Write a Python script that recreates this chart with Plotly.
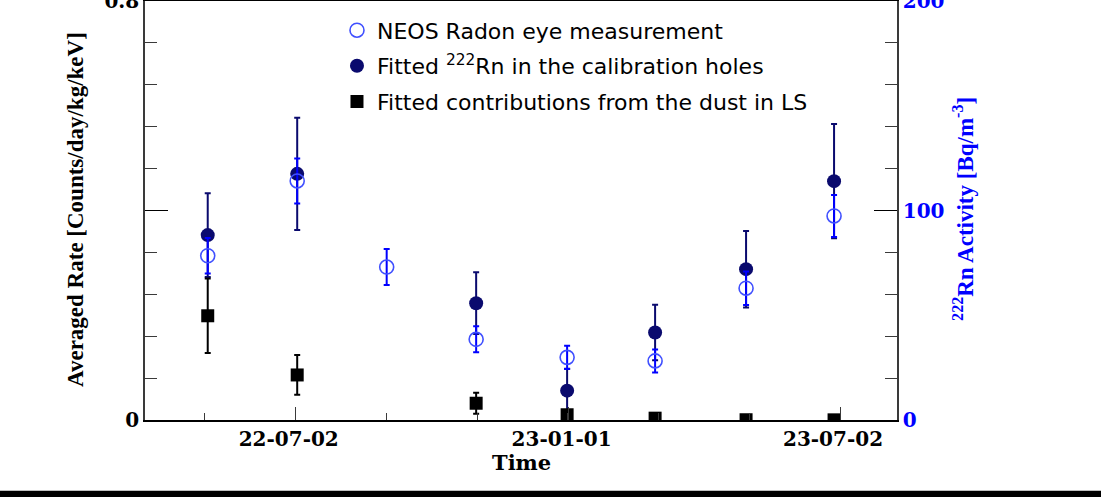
import plotly.graph_objects as go

# Measurement dates (roughly bimonthly)
dates = ["2022-05-04", "2022-07-03", "2022-09-01", "2022-10-31",
         "2022-12-31", "2023-02-28", "2023-04-30", "2023-06-28"]

# NEOS Radon eye measurement [Bq/m^3] (right axis)
neos_bq = [78.4, 114.1, 73.0, 38.5, 29.9, 28.2, 62.9, 97.4]
neos_err = [8.5, 10.7, 8.6, 6.2, 5.6, 5.5, 8.0, 10.0]

# Fitted 222Rn in the calibration holes [counts/day/kg/keV] (left axis)
rn_rate = [0.353, 0.470, None, 0.223, 0.056, 0.167, 0.288, 0.456]
rn_err = [0.080, 0.107, 0, 0.059, 0.042, 0.053, 0.073, 0.109]

# Fitted contributions from the dust in LS [counts/day/kg/keV] (left axis)
dust_rate = [0.199, 0.086, None, 0.032, 0.010, 0.0035, 0.0005, 0.0003]
dust_err = [0.071, 0.038, 0, 0.020, 0.006, 0.003, 0.002, 0.002]

# Axis tick labels
x_tickvals = ["2022-07-02", "2023-01-01", "2023-07-02"]
x_ticktext = ["22-07-02", "23-01-01", "23-07-02"]
y_tickvals = [0, 0.4, 0.8]
y_ticktext = ["0", "", "0.8"]
y2_tickvals = [0, 100, 200]
y2_ticktext = ["0", "100", "200"]

SERIF = "Liberation Serif"
WIDE_SERIF = "DejaVu Serif"
SANS = "DejaVu Sans"
NAVY = "#0a0a6e"
BLUE = "#0000ff"
AXIS = "#3a3a3a"

fig = go.Figure()

fig.add_trace(go.Scatter(
    x=dates, y=rn_rate, mode="markers", yaxis="y",
    name="Fitted <sup>222</sup>Rn in the calibration holes",
    legendrank=2, legendgroup="b",
    marker=dict(symbol="circle", size=14, color=NAVY),
    error_y=dict(type="data", array=rn_err, color=NAVY, thickness=2, width=3),
))

fig.add_trace(go.Scatter(
    x=dates, y=dust_rate, mode="markers", yaxis="y",
    name="Fitted contributions from the dust in LS",
    legendrank=3, legendgroup="c",
    marker=dict(symbol="square", size=13, color="black"),
    error_y=dict(type="data", array=dust_err, color="black", thickness=2, width=3),
))

fig.add_trace(go.Scatter(
    x=dates, y=neos_bq, mode="markers", yaxis="y2",
    name="NEOS Radon eye measurement",
    legendrank=1, legendgroup="a",
    marker=dict(symbol="circle-open", size=14, color="#4050ff",
                line=dict(width=1.6, color="#4050ff")),
    error_y=dict(type="data", array=neos_err, color=BLUE, thickness=2, width=3),
))

tick_font = dict(family=WIDE_SERIF, size=20, color="black", weight="bold")

fig.update_layout(
    width=1101, height=497,
    margin=dict(l=145, r=204, t=1, b=77, autoexpand=False),
    paper_bgcolor="white", plot_bgcolor="white",
    showlegend=True,
    legend=dict(
        x=0.2553, y=0.98, xanchor="left", yanchor="top",
        font=dict(family=SANS, size=22, color="black"),
        bgcolor="rgba(0,0,0,0)", tracegroupgap=4,
        traceorder="grouped",
    ),
    xaxis=dict(
        type="date", automargin=False,
        range=["2022-03-22 22:30", "2023-08-09 05:00"],
        tickmode="array", tickvals=x_tickvals, ticktext=x_ticktext,
        ticks="inside", ticklen=13, tickwidth=1, tickcolor=AXIS,
        ticklabelshift=-7, ticklabelstandoff=0,
        tickfont=tick_font,
        showline=True, linecolor="black", linewidth=1.5, mirror=True,
        showgrid=False, zeroline=False,
        minor=dict(ticks="inside", ticklen=7, tickcolor=AXIS, tickwidth=1,
                   tickmode="linear", tick0="2022-07-02", dtick=5256000000,
                   showgrid=False),
    ),
    yaxis=dict(
        range=[0, 0.8], automargin=False,
        tickmode="array", tickvals=y_tickvals, ticktext=y_ticktext,
        ticks="inside", ticklen=23, tickwidth=1, tickcolor="black",
        tickfont=tick_font, ticklabeloverflow="allow",
        showline=True, linecolor=AXIS, linewidth=1.5,
        showgrid=False, zeroline=False,
        minor=dict(ticks="inside", ticklen=12, tickcolor=AXIS, tickwidth=1,
                   tickmode="linear", tick0=0, dtick=0.08, showgrid=False),
    ),
    yaxis2=dict(
        range=[0, 200], overlaying="y", side="right", automargin=False,
        tickmode="array", tickvals=y2_tickvals, ticktext=y2_ticktext,
        ticks="inside", ticklen=23, tickwidth=1, tickcolor="black",
        tickfont=dict(family=WIDE_SERIF, size=20, color=BLUE, weight="bold"),
        ticklabeloverflow="allow",
        showline=True, linecolor=AXIS, linewidth=1.5,
        showgrid=False, zeroline=False,
        minor=dict(ticks="inside", ticklen=12, tickcolor=AXIS, tickwidth=1,
                   tickmode="linear", tick0=0, dtick=20, showgrid=False),
    ),
    annotations=[
        dict(text="Averaged Rate [Counts/day/kg/keV]", xref="paper", yref="paper",
             x=-0.0918, y=0.5036, xanchor="center", yanchor="middle",
             textangle=-90, showarrow=False,
             font=dict(family=SERIF, size=23, color="black", weight="bold")),
        dict(text="<sup>222</sup>Rn Activity [Bq/m<sup>-3</sup>]", xref="paper", yref="paper",
             x=1.089, y=0.5036, xanchor="center", yanchor="middle",
             textangle=-90, showarrow=False,
             font=dict(family=SERIF, size=23, color=BLUE, weight="bold")),
        dict(text="Time", xref="paper", yref="paper",
             x=0.5, y=-0.1026, xanchor="center", yanchor="middle",
             showarrow=False,
             font=dict(family=WIDE_SERIF, size=21, color="black", weight="bold")),
    ],
    shapes=[
        dict(type="rect", xref="paper", yref="paper",
             x0=-0.25, x1=1.35, y0=-0.20, y1=-0.1687,
             fillcolor="black", line=dict(width=0), layer="above"),
    ],
)

fig.write_html("out.html")
